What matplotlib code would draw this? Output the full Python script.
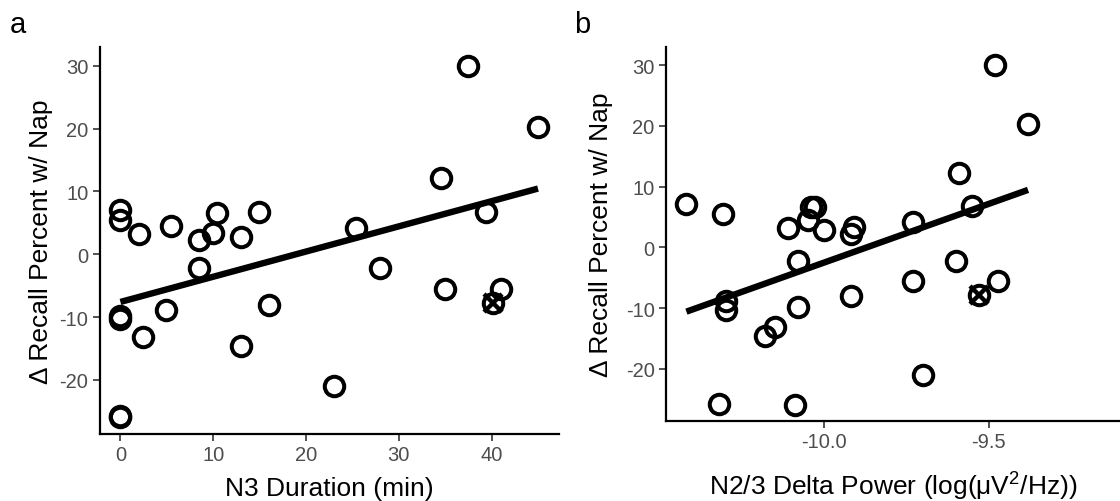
import numpy as np
import matplotlib.pyplot as plt

plt.rcParams['font.family'] = ['Liberation Sans', 'DejaVu Sans']
plt.rcParams['mathtext.fontset'] = 'custom'
plt.rcParams['mathtext.rm'] = 'Liberation Sans'
plt.rcParams['mathtext.it'] = 'Liberation Sans:italic'
plt.rcParams['axes.unicode_minus'] = False

# change in recall (%) per participant, shared by both panels
recall_change = [7.1, 5.5, 3.2, 4.5, 2.2, 3.4, 6.6, 2.8, 6.7, -2.2,
                 -9.9, -10.3, -13.2, -8.8, -14.6, -8.0, -21.0, -25.8, -25.9, 4.2,
                 -2.2, 12.2, -5.5, 30.0, 6.8, -7.8, -5.5, 20.3]
# N3 duration (min)
n3_duration = [0, 0, 2.0, 5.4, 8.5, 10.0, 10.4, 13.0, 14.9, 8.5,
               0, 0, 2.4, 4.9, 13.0, 16.0, 23.0, 0, 0, 25.4,
               28.0, 34.5, 35.0, 37.5, 39.4, 40.2, 41.0, 45.0]
# N2/3 delta power (log uV^2/Hz)
delta_power = [-10.42, -10.31, -10.11, -10.05, -9.92, -9.91, -10.04, -10.00, -10.03, -10.08,
               -10.08, -10.30, -10.15, -10.30, -10.18, -9.92, -9.70, -10.32, -10.09, -9.73,
               -9.60, -9.59, -9.73, -9.48, -9.55, -9.53, -9.47, -9.38]
# participant marked with a cross (left out of the fit)
flagged = [False] * 25 + [True] + [False] * 2

y_ticks = [-20, -10, 0, 10, 20, 30]
a_ticks = [0, 10, 20, 30, 40]
b_ticks = [-10.0, -9.5]

fig = plt.figure(figsize=(11.2, 5.02), dpi=100)
ax_a = fig.add_axes([0.0889, 0.1335, 0.4101, 0.7699])
ax_b = fig.add_axes([0.5944, 0.1594, 0.4056, 0.7440])

y = np.array(recall_change)
flag = np.array(flagged)


def draw_panel(ax, x, xlim, xticks, xfmt, xlabel):
    x = np.array(x)
    ax.plot(x, y, 'o', ms=14, mfc='none', mec='black', mew=2.9, zorder=3)
    ax.plot(x[flag], y[flag], 'x', ms=13.5, mec='black', mew=3.2, zorder=4)
    # least squares fit without the flagged point
    slope, icpt = np.polyfit(x[~flag], y[~flag], 1)
    xs = np.array([x.min(), x.max()])
    ax.plot(xs, icpt + slope * xs, color='black', lw=4.6, solid_capstyle='butt', zorder=2)
    ax.set_xlim(*xlim)
    ax.set_ylim(-28.6, 32.9)
    ax.set_xticks(xticks)
    ax.set_xticklabels([xfmt.format(t) for t in xticks])
    ax.set_yticks(y_ticks)
    for s in ['top', 'right']:
        ax.spines[s].set_visible(False)
    for s in ['left', 'bottom']:
        ax.spines[s].set_linewidth(1.6)
    ax.tick_params(length=5, width=1.2, color='#333333', labelcolor='#4D4D4D',
                   labelsize=14.5, pad=3)
    ax.set_ylabel('\u0394 Recall Percent w/ Nap', fontsize=19)
    ax.set_xlabel(xlabel, fontsize=19)


draw_panel(ax_a, n3_duration, (-2.25, 47.25), a_ticks, '{:.0f}', 'N3 Duration (min)')
draw_panel(ax_b, delta_power, (-10.483, -9.10), b_ticks, '{:.1f}',
           'N2/3 Delta Power (log(\u03bcV$^2$/Hz))')

ax_a.yaxis.set_label_coords(-0.128, 0.5)
ax_b.yaxis.set_label_coords(-0.142, 0.5)
ax_a.xaxis.set_label_coords(0.5, -0.14)
ax_b.xaxis.set_label_coords(0.5, -0.175)
for ax in (ax_a, ax_b):
    ax.xaxis.label.set_va('center')
    ax.yaxis.label.set_va('center')

fig.text(0.009, 0.934, 'a', fontsize=21, va='baseline')
fig.text(0.513, 0.934, 'b', fontsize=21, va='baseline')

fig.savefig('out.png', dpi=100)
